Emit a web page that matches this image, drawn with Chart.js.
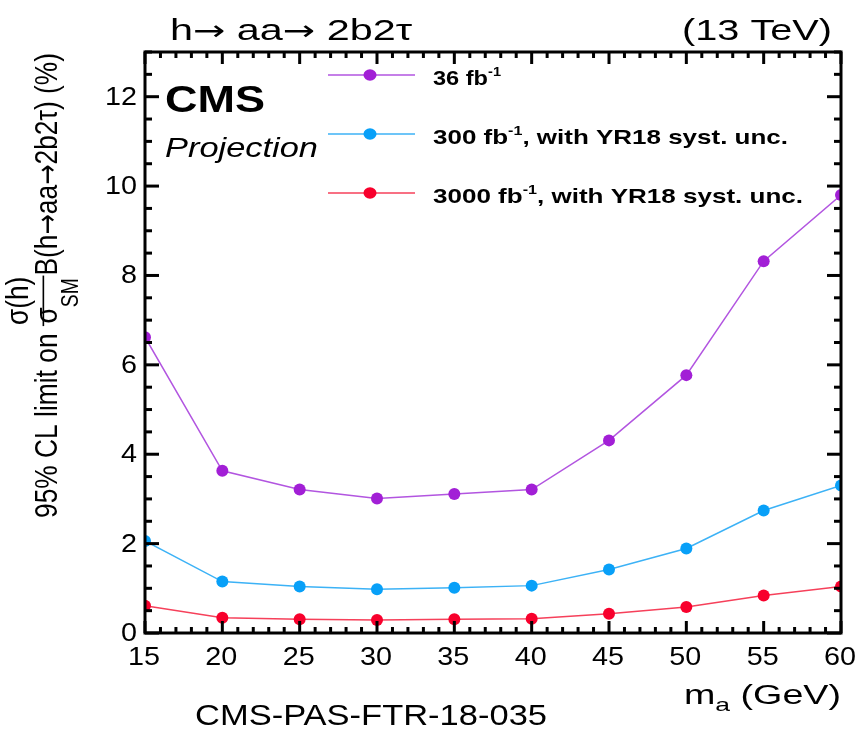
<!DOCTYPE html>
<html>
<head>
<meta charset="utf-8">
<script src="https://cdn.jsdelivr.net/npm/chart.js@4"></script>
<style>
  html, body { margin: 0; padding: 0; background: #fff; }
  #wrap { width: 858px; height: 731px; }
</style>
</head>
<body>
<div id="wrap"><canvas id="limitChart" width="858" height="731"></canvas></div>
<script>
// m_a values (GeV)
const massPoints = [15, 20, 25, 30, 35, 40, 45, 50, 55, 60];
// 95% CL limits (%)
const lim36 = [6.62, 3.63, 3.21, 3.01, 3.11, 3.21, 4.31, 5.77, 8.32, 9.80];
const lim300 = [2.06, 1.15, 1.04, 0.98, 1.01, 1.06, 1.42, 1.89, 2.74, 3.30];
const lim3000 = [0.61, 0.34, 0.31, 0.29, 0.31, 0.32, 0.43, 0.58, 0.84, 1.04];
const seriesNames = ['36 fb', '300 fb', '3000 fb'];
const seriesSuffix = ['', ', with YR18 syst. unc.', ', with YR18 syst. unc.'];
const xTicks = [15, 20, 25, 30, 35, 40, 45, 50, 55, 60];
const yTicks = [0, 2, 4, 6, 8, 10, 12];

const colors = ['#a21fd6', '#08a0f8', '#f8002c'];
const lineColors = ['#b255e0', '#3cb2f6', '#f6405a'];
const FONT = '"Liberation Sans", Arial, Helvetica, sans-serif';
const ARW = '"DejaVu Sans", sans-serif';

const toXY = (arr) => arr.map((v, i) => ({ x: massPoints[i], y: v }));

const mkSet = (vals, i) => ({
    label: seriesNames[i],
    data: toXY(vals),
    borderColor: lineColors[i],
    backgroundColor: colors[i],
    pointBackgroundColor: colors[i],
    borderWidth: 1.5,
    pointRadius: 6,
    pointBorderWidth: 0,
    tension: 0
});

// draw text runs squeezed/stretched to a given width
const fitRuns = (ctx, runs, x, base, w, align) => {
    let nat = 0;
    runs.forEach(r => { ctx.font = r.f; r.w = ctx.measureText(r.t).width; nat += r.w; });
    const k = w / nat;
    ctx.save();
    ctx.translate(align === 'right' ? x - w : align === 'center' ? x - w / 2 : x, base);
    ctx.scale(k, 1);
    ctx.textAlign = 'left';
    let cx = 0;
    runs.forEach(r => { ctx.font = r.f; ctx.fillText(r.t, cx, r.dy || 0); cx += r.w; });
    ctx.restore();
};

// ROOT style frame, inward ticks, legend and labels
const rootFrame = {
    id: 'rootFrame',
    afterDraw(chart) {
        const { ctx, chartArea: a, scales: { x, y } } = chart;
        ctx.save();
        ctx.strokeStyle = '#000';
        ctx.fillStyle = '#000';
        ctx.lineWidth = 3;
        ctx.textBaseline = 'alphabetic';

        const line = (x1, y1, x2, y2) => { ctx.beginPath(); ctx.moveTo(x1, y1); ctx.lineTo(x2, y2); ctx.stroke(); };
        for (let m = 15; m <= 60; m++) {
            const px = x.getPixelForValue(m);
            const len = m % 5 === 0 ? 12 : 6;
            line(px, a.bottom, px, a.bottom - len);
            line(px, a.top, px, a.top + len);
        }
        for (let v = 0; v <= 13.001; v += 0.5) {
            const py = y.getPixelForValue(v);
            const len = Math.abs(v % 2) < 0.001 ? 14 : 7;
            line(a.left, py, a.left + len, py);
            line(a.right, py, a.right - len, py);
        }
        ctx.strokeRect(a.left, a.top, a.right - a.left, a.bottom - a.top);

        // tick labels
        const tf = `25px ${FONT}`;
        x.ticks.forEach(t => {
            ctx.font = tf;
            const s = String(t.value);
            const w = ctx.measureText(s).width * 1.15;
            fitRuns(ctx, [{ t: s, f: tf }], x.getPixelForValue(t.value) - 1, 665, w, 'center');
        });
        y.ticks.forEach(t => {
            ctx.font = tf;
            const s = String(t.value);
            const w = ctx.measureText(s).width * 1.15;
            fitRuns(ctx, [{ t: s, f: tf }], 137, y.getPixelForValue(t.value) + 8, w, 'right');
        });

        // top labels
        const f30 = `30px ${FONT}`, a30 = `28px ${ARW}`;
        fitRuns(ctx, [{ t: 'h', f: f30 }, { t: '\u2192', f: a30 }, { t: ' aa', f: f30 },
            { t: '\u2192', f: a30 }, { t: ' 2b2\u03c4', f: f30 }], 170, 40, 242, 'left');
        fitRuns(ctx, [{ t: '(13 TeV)', f: f30 }], 832, 40, 150, 'right');

        // CMS Projection
        fitRuns(ctx, [{ t: 'CMS', f: `bold 36px ${FONT}` }], 165, 112, 100, 'left');
        fitRuns(ctx, [{ t: 'Projection', f: `italic 28px ${FONT}` }], 165, 157, 153, 'left');

        // legend
        const legY = [75, 134, 193];
        const legW = [68, 355, 370];
        chart.data.datasets.forEach((ds, i) => {
            const ly = legY[i];
            ctx.strokeStyle = ds.borderColor;
            ctx.lineWidth = 1.5;
            line(328, ly, 415, ly);
            ctx.fillStyle = ds.backgroundColor;
            ctx.beginPath();
            ctx.ellipse(370, ly, 6.5, 5.8, 0, 0, Math.PI * 2);
            ctx.fill();
            ctx.fillStyle = '#000';
            const runs = [{ t: ds.label, f: `bold 21px ${FONT}` }, { t: '-1', f: `bold 13px ${FONT}`, dy: -9 }];
            if (seriesSuffix[i]) runs.push({ t: seriesSuffix[i], f: `bold 21px ${FONT}` });
            fitRuns(ctx, runs, 433, ly + 10, legW[i], 'left');
        });

        // x title
        fitRuns(ctx, [{ t: 'm', f: `27px ${FONT}` }, { t: 'a', f: `19px ${FONT}`, dy: 7 },
            { t: ' (GeV)', f: `27px ${FONT}` }], 841, 704, 157, 'right');

        // footer
        fitRuns(ctx, [{ t: 'CMS-PAS-FTR-18-035', f: `30px ${FONT}` }], 195, 725, 352, 'left');

        // y title (rotated, reads bottom to top)
        ctx.translate(57, 518);
        ctx.rotate(-Math.PI / 2);
        const f1 = `26px ${FONT}`, fa = `24px ${ARW}`, fSub = `19px ${FONT}`;
        const pre = '95% CL limit on ';
        const post = [{ t: 'B(h', f: f1 }, { t: '\u2192', f: fa }, { t: 'aa', f: f1 }, { t: '\u2192', f: fa }, { t: '2b2\u03c4) (%)', f: f1 }];
        ctx.font = f1;
        const preW = ctx.measureText(pre).width;
        const numW = ctx.measureText('\u03c3(h)').width;
        const sigW = ctx.measureText('\u03c3').width;
        ctx.font = fSub;
        const smW = ctx.measureText('SM').width;
        const fracW = Math.max(numW, sigW + smW) + 2;
        let postW = 0;
        post.forEach(r => { ctx.font = r.f; r.w = ctx.measureText(r.t).width; postW += r.w; });
        const total = preW + fracW + postW;
        ctx.scale(465 / total, 1.24);
        ctx.textAlign = 'left';
        ctx.font = f1;
        ctx.fillText(pre, 0, 0);
        let cx = preW;
        ctx.fillText('\u03c3(h)', cx + (fracW - numW) / 2, -23);
        ctx.lineWidth = 1.3;
        ctx.strokeStyle = '#000';
        line(cx, -11, cx + fracW, -11);
        const dx = cx + (fracW - sigW - smW) / 2;
        ctx.fillText('\u03c3', dx, 0);
        ctx.font = fSub;
        ctx.fillText('SM', dx + sigW, 17);
        cx += fracW;
        post.forEach(r => { ctx.font = r.f; ctx.fillText(r.t, cx, 0); cx += r.w; });

        ctx.restore();
    }
};

new Chart(document.getElementById('limitChart'), {
    type: 'line',
    data: { datasets: [mkSet(lim36, 0), mkSet(lim300, 1), mkSet(lim3000, 2)] },
    options: {
        responsive: false,
        animation: false,
        layout: { padding: { top: 52, right: 17, left: 0, bottom: 0 } },
        plugins: { legend: { display: false }, tooltip: { enabled: false } },
        scales: {
            x: {
                type: 'linear',
                min: 15,
                max: 60,
                grid: { display: false, drawTicks: false },
                border: { display: false },
                afterBuildTicks: (s) => { s.ticks = xTicks.map(v => ({ value: v })); },
                afterFit: (s) => { s.height = 98; s.paddingLeft = 0; s.paddingRight = 0; },
                ticks: { display: false }
            },
            y: {
                min: 0,
                max: 13,
                grid: { display: false, drawTicks: false },
                border: { display: false },
                afterBuildTicks: (s) => { s.ticks = yTicks.map(v => ({ value: v })); },
                afterFit: (s) => { s.width = 145; s.paddingTop = 0; s.paddingBottom = 0; },
                ticks: { display: false }
            }
        }
    },
    plugins: [rootFrame]
});
</script>
</body>
</html>
